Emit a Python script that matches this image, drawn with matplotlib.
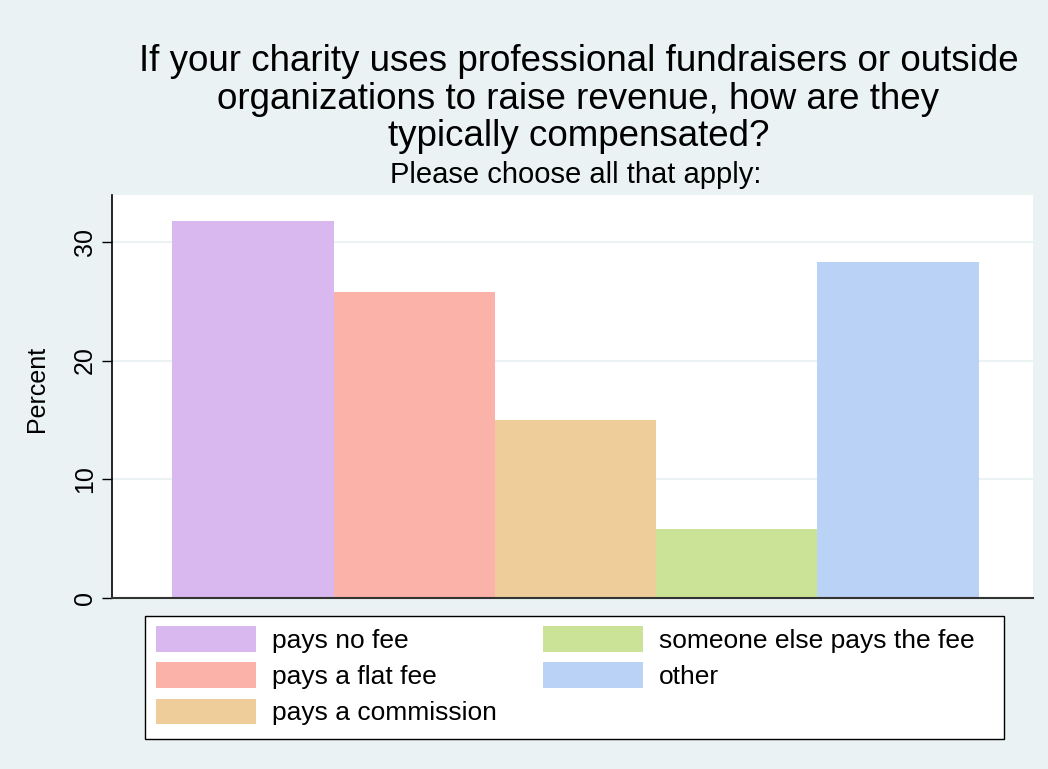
import matplotlib
matplotlib.use("Agg")
import matplotlib.pyplot as plt
from matplotlib.patches import Patch, Rectangle

categories = ["pays no fee", "pays a flat fee", "pays a commission",
              "someone else pays the fee", "other"]
values = [31.7, 25.8, 15.0, 5.8, 28.3]
colors = ["#D8B8EE", "#FBB3A9", "#EFCD9B", "#CBE396", "#BAD2F5"]
yticks = [0, 10, 20, 30]

plt.rcParams['font.family'] = ['Liberation Sans', 'DejaVu Sans']
bg = "#EAF2F3"
W, H = 1048, 769

fig = plt.figure(figsize=(10.48, 7.69), dpi=100, facecolor=bg)
ax = fig.add_axes([0.107, 0.222, 0.879, 0.524])
ax.set_facecolor("white")

xs = list(range(len(values)))
ax.bar(xs, values, width=1.0, color=colors, zorder=2)
ax.set_xlim(-0.873, 4.84)
ax.set_ylim(0, 33.9)
ax.set_yticks(yticks)
ax.set_yticklabels([str(t) for t in yticks], rotation=90, va="center", fontsize=18)
ax.set_xticks([])
for t in yticks[1:]:
    ax.axhline(t, color=bg, lw=1.5, zorder=1)
for s in ["top", "right"]:
    ax.spines[s].set_visible(False)
ax.spines["left"].set_color("black")
ax.spines["bottom"].set_color("#333333")
ax.spines["left"].set_linewidth(1.2)
ax.spines["bottom"].set_linewidth(1.5)
ax.tick_params(axis="y", length=7, width=1, pad=4)
ax.set_ylabel("Percent", fontsize=18)
ax.yaxis.set_label_coords(-0.068, 0.52)

fig.text(0.552, 0.871, "If your charity uses professional fundraisers or outside\n"
         "organizations to raise revenue, how are they\ntypically compensated?",
         ha="center", va="center", fontsize=26.5, linespacing=1.1)
fig.text(0.549, 0.772, "Please choose all that apply:", ha="center", va="center", fontsize=21)

# legend frame
fig.patches.append(Rectangle((145 / W, 1 - 739 / H), (1004 - 145) / W, (739 - 616) / H,
                             transform=fig.transFigure, facecolor="white",
                             edgecolor="black", linewidth=1.0, zorder=0))

handles = [Patch(facecolor=c, edgecolor="none") for c in colors]
leg = fig.legend(handles, categories, loc="upper left",
                 bbox_to_anchor=(156 / W, 1 - 626 / H), ncol=2, fontsize=19,
                 frameon=False, borderpad=0, borderaxespad=0,
                 handlelength=3.8, handleheight=1.12, columnspacing=1.74,
                 labelspacing=0.36, handletextpad=0.6)
fig.savefig("out.png", dpi=100, facecolor=bg)
